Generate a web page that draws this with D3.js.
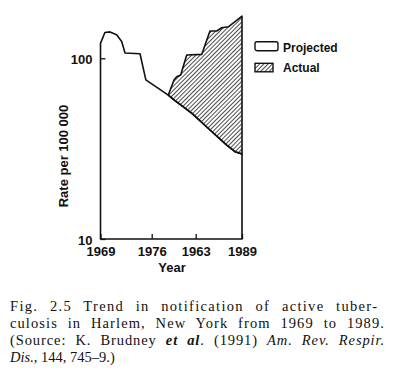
<!DOCTYPE html>
<html>
<head>
<meta charset="UTF-8">
<script src="https://d3js.org/d3.v7.min.js"></script>
<style>
 body { margin: 0; background: #fff; }
 .axis text { font-family: "Liberation Sans", Arial, sans-serif; font-weight: bold; font-size: 13px; fill: #111; }
 .lab { font-family: "Liberation Sans", Arial, sans-serif; font-weight: bold; fill: #111; }
 .cap { font-family: "Liberation Serif", "Times New Roman", serif; font-size: 14.5px; fill: #111; }
</style>
</head>
<body>
<div id="chart"></div>
<script>
 // Rate per 100 000
 const sharedYears = [1969, 1969.6, 1970.3, 1971.2, 1971.9, 1972.35, 1974.4, 1975.2, 1978.64];
 const sharedRates = [121, 139, 140, 135, 124, 107, 106, 76, 62.6];

 const projectedYears = [1978.64, 1979.44, 1982.4, 1984.85, 1987.02, 1988.09, 1989];
 const projectedRates = [62.6, 59.3, 49.6, 40.1, 33.1, 30.4, 29.5];

 const actualYears = [1978.64, 1979.55, 1979.98, 1980.61, 1981.57, 1983.78, 1984.85, 1985.72, 1986.37, 1987.23, 1989];
 const actualRates = [62.6, 75.9, 79.1, 80.8, 104.2, 105.1, 141.6, 141.6, 147.6, 149.4, 171];

 const xTickYears = [1969, 1976, 1983, 1989];
 const xTickLabels = ["1969", "1976", "1963", "1989"];   // misprint kept as in the figure
 const yTickValues = [10, 100];

 const legendLabels = ["Projected", "Actual"];

 const captionLines = [
     [["Fig. 2.5  Trend in notification of active tuber-", ""]],
     [["culosis in Harlem, New York from 1969 to 1989.", ""]],
     [["(Source: K. Brudney ", ""], ["et al", "bi"], [". (1991) ", ""], ["Am. Rev. Respir.", "i"]],
     [["Dis.", "i"], [", 144, 745\u20139.)", ""]]
 ];

 const width = 400, height = 385;

 let svg = d3.select("#chart").append("svg")
             .attr("width", width)
             .attr("height", height);

 svg.append("rect").attr("width", width).attr("height", height).style("fill", "#fff");

 // printed axis is not quite even, so use a piecewise scale through the tick years
 let x = d3.scaleLinear()
           .domain(xTickYears)
           .range([100.5, 151.7, 195.7, 242]);
 let y = d3.scaleLog()
           .domain([10, 100])
           .range([239, 58.3]);

 let defs = svg.append("defs");
 defs.append("pattern")
     .attr("id", "hatch")
     .attr("patternUnits", "userSpaceOnUse")
     .attr("width", 3)
     .attr("height", 3)
     .attr("patternTransform", "rotate(45)")
     .append("line")
     .attr("x1", 0).attr("y1", 0)
     .attr("x2", 0).attr("y2", 3)
     .attr("stroke", "#111")
     .attr("stroke-width", 1.5);

 let shared = sharedYears.map((d, i) => [d, sharedRates[i]]);
 let projected = projectedYears.map((d, i) => [d, projectedRates[i]]);
 let actual = actualYears.map((d, i) => [d, actualRates[i]]);

 // projected (white) region under the curve
 let lower = shared.concat(projected.slice(1));
 let area = d3.area()
              .x(d => x(d[0]))
              .y0(y(10))
              .y1(d => y(d[1]));
 svg.append("path")
    .datum(lower)
    .attr("d", area)
    .style("fill", "#fff")
    .style("stroke", "#111")
    .style("stroke-width", 1.6)
    .style("stroke-linejoin", "round");

 // actual excess, hatched
 let excess = actual.concat(projected.slice().reverse());
 let line = d3.line()
              .x(d => x(d[0]))
              .y(d => y(d[1]));
 svg.append("path")
    .datum(excess)
    .attr("d", d => line(d) + "Z")
    .style("fill", "url(#hatch)")
    .style("stroke", "#111")
    .style("stroke-width", 1.6)
    .style("stroke-linejoin", "round");

 // axes
 let xAxis = d3.axisBottom(x)
               .tickValues(xTickYears)
               .tickFormat((d, i) => xTickLabels[i])
               .tickSize(-5)
               .tickPadding(8);
 let gx = svg.append("g")
             .attr("class", "axis")
             .attr("transform", `translate(0,${y(10)})`)
             .call(xAxis);
 gx.select(".domain").remove();
 gx.selectAll("line").attr("stroke", "#111").attr("stroke-width", 1.3);

 let yAxis = d3.axisLeft(y)
               .tickValues(yTickValues)
               .tickFormat(d3.format("d"))
               .tickSize(-5)
               .tickPadding(8);
 let gy = svg.append("g")
             .attr("class", "axis")
             .attr("transform", `translate(${x(1969)},0)`)
             .call(yAxis);
 gy.select(".domain").remove();
 gy.selectAll("line").attr("stroke", "#111").attr("stroke-width", 1.3);
 gy.selectAll("text").attr("dy", "0.4em");

 svg.append("text")
    .attr("class", "lab")
    .attr("x", 172)
    .attr("y", 271.5)
    .attr("text-anchor", "middle")
    .style("font-size", "13px")
    .text("Year");

 svg.append("text")
    .attr("class", "lab")
    .attr("transform", "translate(68,156) rotate(-90)")
    .attr("text-anchor", "middle")
    .style("font-size", "13px")
    .text("Rate per 100 000");

 // legend
 let legend = svg.append("g").attr("transform", "translate(255,0)");
 legend.append("rect")
       .attr("x", 0).attr("y", 41.7)
       .attr("width", 23).attr("height", 9)
       .attr("rx", 2)
       .style("fill", "#fff")
       .style("stroke", "#111")
       .style("stroke-width", 1.4);
 legend.append("rect")
       .attr("x", 0).attr("y", 63.3)
       .attr("width", 18).attr("height", 8.5)
       .style("fill", "url(#hatch)")
       .style("stroke", "#111")
       .style("stroke-width", 1.4);
 legend.selectAll("text.leg")
       .data(legendLabels)
       .enter()
       .append("text")
       .attr("class", "lab leg")
       .attr("x", 28)
       .attr("y", (d, i) => 51.5 + i * 20.5)
       .style("font-size", "12px")
       .text(d => d);

 // caption, first three lines justified to the column
 const capLeft = 10, capRight = 385;
 captionLines.forEach(function(parts, i) {
     let t = svg.append("text")
                .attr("class", "cap")
                .attr("x", capLeft)
                .attr("y", 310.5 + i * 17);
     parts.forEach(function(p) {
         let s = t.append("tspan").text(p[0]);
         if (p[1].includes("i")) s.style("font-style", "italic");
         if (p[1].includes("b")) s.style("font-weight", "bold");
     });
     if (i < 3) {
         // spread partly over letters, rest over word gaps
         let full = parts.map(p => p[0]).join("");
         let spaces = (full.match(/ /g) || []).length;
         let gap = capRight - capLeft - t.node().getComputedTextLength();
         t.style("letter-spacing", (gap * 0.55 / full.length) + "px");
         gap = capRight - capLeft - t.node().getComputedTextLength();
         t.style("word-spacing", (gap / spaces) + "px");
     }
 });
</script>
</body>
</html>
